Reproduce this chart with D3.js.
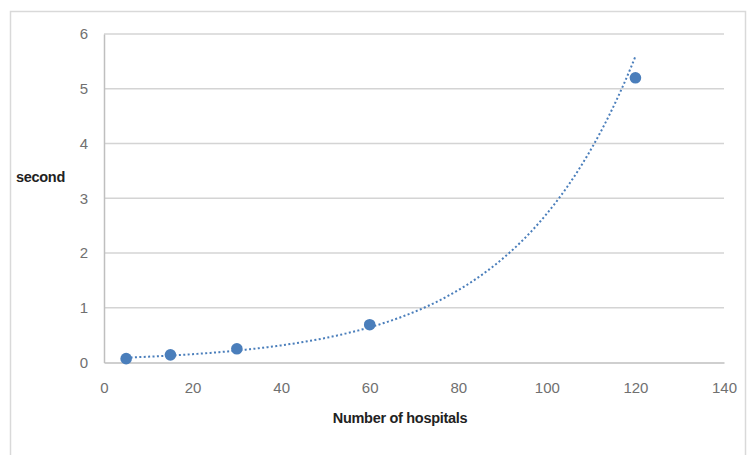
<!DOCTYPE html>
<html>
<head>
<meta charset="utf-8">
<script src="https://cdn.jsdelivr.net/npm/d3@7"></script>
<style>
  html, body { margin: 0; padding: 0; background: #fff; }
  svg { display: block; }
</style>
</head>
<body>
<svg id="chart" width="749" height="455"></svg>
<script>
// Response time versus number of hospitals
const hospitals = [5, 15, 30, 60, 120];
const seconds = [0.07, 0.14, 0.25, 0.69, 5.2];
const xTicks = [0, 20, 40, 60, 80, 100, 120, 140];
const yTicks = [0, 1, 2, 3, 4, 5, 6];
const xTitle = "Number of hospitals";
const yTitle = "second";

const svg = d3.select("#chart");
const blue = "#4a7ebb";

// outer chart frame
svg.append("rect")
  .attr("x", 10.5).attr("y", 11.5)
  .attr("width", 735).attr("height", 460)
  .attr("fill", "#fff").attr("stroke", "#d9d9d9").attr("stroke-width", 1.5);

const x = d3.scaleLinear().domain([0, 140]).range([104, 724]);
const y = d3.scaleLinear().domain([0, 6]).range([362.5, 34]);

// horizontal gridlines
svg.append("g").selectAll("line").data(yTicks.filter(d => d > 0)).join("line")
  .attr("x1", x(0)).attr("x2", x(140))
  .attr("y1", d => y(d)).attr("y2", d => y(d))
  .attr("stroke", "#d4d4d4").attr("stroke-width", 1.5);

// axes
const xAxis = svg.append("g").attr("transform", `translate(0,${y(0)})`)
  .call(d3.axisBottom(x).tickValues(xTicks).tickSize(0).tickPadding(20).tickFormat(d3.format("d")));
const yAxis = svg.append("g").attr("transform", `translate(${x(0)},0)`)
  .call(d3.axisLeft(y).tickValues(yTicks).tickSize(0).tickPadding(16).tickFormat(d3.format("d")));
[xAxis, yAxis].forEach(g => {
  g.select(".domain").attr("stroke", "#bfbfbf").attr("stroke-width", 1.5);
  g.selectAll("text")
    .attr("font-family", "Liberation Sans, Arial, sans-serif")
    .attr("font-size", 15).attr("fill", "#707070");
});

// exponential trendline fitted by least squares on ln(y)
const n = hospitals.length;
const lny = seconds.map(Math.log);
const mx = d3.mean(hospitals), my = d3.mean(lny);
const sxy = d3.sum(hospitals, (v, i) => (v - mx) * (lny[i] - my));
const sxx = d3.sum(hospitals, v => (v - mx) * (v - mx));
const b = sxy / sxx;
const a = Math.exp(my - b * mx);
const xs = d3.range(hospitals[0], hospitals[n - 1] + 0.01, 0.5);
svg.append("path")
  .datum(xs)
  .attr("fill", "none")
  .attr("stroke", blue)
  .attr("stroke-width", 2)
  .attr("stroke-dasharray", "2,2.4")
  .attr("d", d3.line().x(d => x(d)).y(d => y(a * Math.exp(b * d))));

// data points
svg.append("g").selectAll("circle").data(hospitals).join("circle")
  .attr("cx", d => x(d))
  .attr("cy", (d, i) => y(seconds[i]))
  .attr("r", 5.8)
  .attr("fill", blue);

// axis titles
svg.append("text")
  .attr("x", 400).attr("y", 423)
  .attr("text-anchor", "middle")
  .attr("font-family", "Liberation Sans, Arial, sans-serif")
  .attr("font-weight", "bold").attr("font-size", 14.5)
  .attr("letter-spacing", -0.3)
  .attr("fill", "#222")
  .text(xTitle);
svg.append("text")
  .attr("x", 16).attr("y", 182)
  .attr("font-family", "Liberation Sans, Arial, sans-serif")
  .attr("font-weight", "bold").attr("font-size", 14.5)
  .attr("letter-spacing", -0.3)
  .attr("fill", "#222")
  .text(yTitle);
</script>
</body>
</html>
